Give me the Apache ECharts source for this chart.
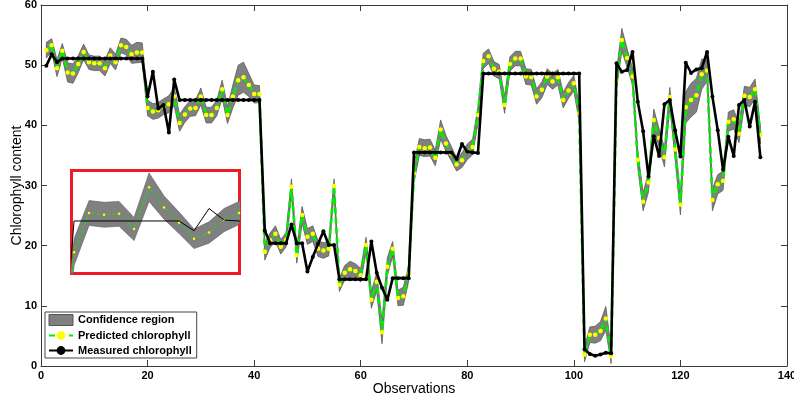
<!DOCTYPE html>
<html>
<head>
<meta charset="utf-8">
<script src="https://cdn.jsdelivr.net/npm/echarts@6/dist/echarts.min.js"></script>
<style>
html,body{margin:0;padding:0;background:#fff;}
#chart{width:794px;height:401px;}
</style>
</head>
<body>
<div id="chart"></div>
<script>
// ---------- data ----------
const observationCount = 135;
const observations = [];
for (let k = 1; k <= observationCount; k++) observations.push(k);

const measured = [
  49.9, 51.8, 50.5, 51.1, 51.1, 51.1, 51.1, 51.1, 51.1, 51.1,
  51.1, 51.1, 51.1, 51.1, 51.1, 51.1, 51.1, 51.1, 51.1, 44.8,
  48.9, 42.8, 43.4, 38.8, 47.6, 44.2, 44.2, 44.2, 44.2, 44.2,
  44.2, 44.2, 44.2, 44.2, 44.2, 44.2, 44.2, 44.2, 44.2, 44.2,
  44.2, 22.5, 20.4, 20.4, 20.4, 20.4, 23.5, 20.4, 20.4, 15.7,
  18.1, 20.3, 22.4, 20.1, 20.1, 14.4, 14.4, 14.4, 14.4, 14.4,
  14.4, 20.7, 15.5, 13.0, 11.0, 14.6, 14.6, 14.6, 14.6, 35.5,
  35.5, 35.5, 35.5, 35.5, 35.5, 35.5, 35.5, 34.4, 36.9, 35.6,
  35.5, 35.4, 48.6, 48.6, 48.6, 48.6, 48.6, 48.6, 48.6, 48.6,
  48.6, 48.6, 48.6, 48.6, 48.6, 48.6, 48.6, 48.6, 48.6, 48.6,
  48.6, 2.8, 2.0, 1.7, 1.9, 2.2, 2.1, 50.3, 48.9, 49.2,
  52.2, 43.9, 39.0, 31.5, 38.2, 34.9, 43.5, 44.2, 39.2, 34.8,
  50.4, 48.7, 49.3, 49.5, 52.2, 44.8, 39.2, 32.6, 38.1, 34.9,
  43.4, 44.2, 39.8, 43.9, 34.7
];

const predicted = [
  52.5, 53.3, 49.5, 52.4, 48.8, 48.6, 50.2, 52.2, 50.5, 50.3,
  50.3, 49.5, 51.6, 50.5, 53.3, 53.0, 51.8, 52.1, 52.1, 42.9,
  42.3, 42.5, 43.1, 43.5, 44.8, 40.4, 41.8, 42.8, 42.9, 44.8,
  41.7, 41.7, 42.9, 46.0, 41.7, 44.8, 47.5, 48.0, 46.7, 45.2,
  45.2, 19.0, 20.9, 22.0, 19.8, 21.0, 29.8, 18.4, 25.1, 21.5,
  22.0, 19.5, 19.2, 19.5, 29.9, 13.5, 15.5, 16.1, 15.8, 15.1,
  20.1, 11.0, 14.0, 5.6, 16.5, 19.5, 11.3, 11.6, 15.4, 32.0,
  36.4, 36.2, 36.3, 34.6, 39.3, 37.0, 35.3, 33.5, 34.2, 35.6,
  36.4, 41.7, 50.7, 51.5, 49.4, 48.9, 43.4, 50.2, 51.1, 51.1,
  48.1, 48.0, 44.8, 45.9, 48.1, 47.3, 48.0, 44.2, 45.8, 47.0,
  42.0, 1.9, 5.2, 5.2, 5.8, 7.9, 1.6, 47.5, 54.2, 51.2,
  48.1, 34.3, 27.3, 30.5, 40.9, 37.9, 34.7, 44.7, 36.0, 26.8,
  43.0, 44.2, 45.0, 48.5, 49.1, 27.6, 30.2, 30.8, 40.6, 41.0,
  38.6, 44.9, 44.7, 46.0, 38.4
];

// half width of the grey confidence region around the prediction
const bandHalfWidth = [
  1.3, 1.1, 1.4, 1.2, 1.6, 1.6, 1.4, 1.3, 1.2, 1.2,
  1.2, 1.3, 1.3, 1.3, 1.2, 1.3, 1.5, 1.7, 1.6, 1.3,
  1.3, 1.3, 1.3, 1.4, 1.5, 1.4, 1.3, 1.3, 1.3, 1.4,
  1.3, 1.3, 1.3, 1.5, 1.4, 1.9, 2.5, 2.5, 1.9, 1.5,
  1.4, 1.4, 1.2, 1.3, 1.2, 1.2, 1.3, 1.3, 1.4, 1.3,
  1.3, 1.3, 1.3, 1.2, 1.2, 1.1, 1.2, 1.3, 1.2, 1.1,
  1.3, 1.4, 1.5, 1.9, 1.5, 1.2, 1.3, 1.5, 1.3, 1.5,
  1.4, 1.4, 1.4, 1.3, 1.6, 1.3, 1.2, 1.1, 1.2, 1.3,
  1.3, 1.4, 1.3, 1.2, 1.2, 1.2, 1.4, 1.2, 1.2, 1.2,
  1.3, 1.3, 1.3, 1.3, 1.3, 1.3, 1.3, 1.3, 1.3, 1.3,
  1.4, 1.2, 1.3, 1.4, 1.6, 2.0, 1.2, 1.5, 1.9, 1.5,
  1.4, 1.4, 1.5, 1.6, 1.8, 1.5, 1.6, 1.6, 1.5, 1.7,
  2.6, 2.8, 2.8, 2.5, 1.8, 1.8, 1.6, 1.6, 1.6, 1.6,
  1.5, 1.6, 1.6, 1.7, 1.5
];

const xTickValues = [0, 20, 40, 60, 80, 100, 120, 140];
const yTickValues = [0, 10, 20, 30, 40, 50, 60];
const insetXRange = [69.83, 81.03];
const insetYRange = [29.6, 41.17];

// ---------- derived series ----------
const pairs = (vals) => observations.map((o, k) => [o, vals[k]]);
const bandRows = observations.map((o, k) => [o, predicted[k] - bandHalfWidth[k], predicted[k] + bandHalfWidth[k]]);
const predPairs = pairs(predicted);
const measPairs = pairs(measured);

const FONT = '"Liberation Sans", Arial, Helvetica, sans-serif';
const AXIS_COLOR = '#3a3a3a';
const GREY = '#808080';
const EDGE = '#5c5c5c';

const chart = echarts.init(document.getElementById('chart'), null, {renderer: 'canvas'});

const tickLabel = {fontFamily: FONT, fontWeight: 'bold', fontSize: 11, color: '#000'};

function bandSeries(name, xi, yi, edgeW) {
  return {
    name: name, type: 'custom', xAxisIndex: xi, yAxisIndex: yi,
    data: bandRows, encode: {x: 0, y: [1, 2]}, clip: true, silent: true,
    color: GREY, z: 1,
    renderItem: function (params, api) {
      if (params.dataIndex !== 0) return null;
      const pts = [];
      for (let k = 0; k < bandRows.length; k++) pts.push(api.coord([bandRows[k][0], bandRows[k][2]]));
      for (let k = bandRows.length - 1; k >= 0; k--) pts.push(api.coord([bandRows[k][0], bandRows[k][1]]));
      return {
        type: 'polygon', shape: {points: pts},
        style: {fill: GREY, stroke: EDGE, lineWidth: edgeW}
      };
    }
  };
}

const option = {
  animation: false,
  backgroundColor: '#fff',
  grid: [
    {left: 41, right: 7, top: 5, bottom: 35, containLabel: false, outerBoundsMode: 'none'},
    {left: 71.5, top: 170.5, width: 168, height: 103, show: true, containLabel: false, outerBoundsMode: 'none',
     borderColor: '#ec1c24', borderWidth: 3, backgroundColor: '#fff', z: 0}
  ],
  legend: {
    orient: 'vertical', left: 45, top: 312,
    itemWidth: 24, itemHeight: 11, itemGap: 4,
    padding: [2, 5, 2, 3],
    borderColor: '#444', borderWidth: 1, backgroundColor: '#fff',
    textStyle: {fontFamily: FONT, fontWeight: 'bold', fontSize: 11, color: '#000', lineHeight: 11},
    data: [
      {name: 'Confidence region', icon: 'rect',
       itemStyle: {color: GREY, borderColor: '#555', borderWidth: 1}},
      {name: 'Predicted chlorophyll'},
      {name: 'Measured chlorophyll'}
    ],
    selectedMode: false, z: 20
  },
  xAxis: [
    {
      type: 'value', gridIndex: 0, min: xTickValues[0], max: xTickValues[xTickValues.length - 1],
      interval: xTickValues[1] - xTickValues[0], position: 'bottom',
      name: 'Observations', nameLocation: 'middle', nameGap: 16, nameMoveOverlap: false,
      nameTextStyle: {fontFamily: FONT, fontSize: 14, color: '#000'},
      axisLine: {onZero: false, lineStyle: {color: AXIS_COLOR, width: 1}},
      axisTick: {inside: true, length: 6, lineStyle: {color: AXIS_COLOR}},
      axisLabel: Object.assign({margin: 4}, tickLabel),
      splitLine: {show: false}
    },
    {
      type: 'value', gridIndex: 0, min: xTickValues[0], max: xTickValues[xTickValues.length - 1],
      interval: xTickValues[1] - xTickValues[0], position: 'top',
      axisLine: {onZero: false, lineStyle: {color: AXIS_COLOR, width: 1}},
      axisTick: {inside: true, length: 6, lineStyle: {color: AXIS_COLOR}},
      axisLabel: {show: false}, splitLine: {show: false}
    },
    {
      type: 'value', gridIndex: 1, min: insetXRange[0], max: insetXRange[1], show: false,
      splitLine: {show: false}
    }
  ],
  yAxis: [
    {
      type: 'value', gridIndex: 0, min: yTickValues[0], max: yTickValues[yTickValues.length - 1],
      interval: yTickValues[1] - yTickValues[0], position: 'left',
      name: 'Chlorophyll content', nameLocation: 'middle', nameGap: 17, nameRotate: 90, nameMoveOverlap: false,
      nameTextStyle: {fontFamily: FONT, fontSize: 14, color: '#000'},
      axisLine: {onZero: false, lineStyle: {color: AXIS_COLOR, width: 1}},
      axisTick: {inside: true, length: 6, lineStyle: {color: AXIS_COLOR}},
      axisLabel: Object.assign({margin: 4}, tickLabel),
      splitLine: {show: false}
    },
    {
      type: 'value', gridIndex: 0, min: yTickValues[0], max: yTickValues[yTickValues.length - 1],
      interval: yTickValues[1] - yTickValues[0], position: 'right',
      axisLine: {onZero: false, lineStyle: {color: AXIS_COLOR, width: 1}},
      axisTick: {inside: true, length: 6, lineStyle: {color: AXIS_COLOR}},
      axisLabel: {show: false}, splitLine: {show: false}
    },
    {
      type: 'value', gridIndex: 1, min: insetYRange[0], max: insetYRange[1], show: false,
      splitLine: {show: false}
    }
  ],
  series: [
    bandSeries('Confidence region', 0, 0, 0.8),
    {
      name: 'Predicted chlorophyll', type: 'line', xAxisIndex: 0, yAxisIndex: 0,
      data: predPairs, symbol: 'circle', symbolSize: 4.5, showSymbol: true,
      color: '#00ee00',
      lineStyle: {color: '#00ee00', width: 2.6, type: [6, 4]},
      itemStyle: {color: '#ffff00', borderWidth: 0}, z: 3
    },
    {
      name: 'Measured chlorophyll', type: 'line', xAxisIndex: 0, yAxisIndex: 0,
      data: measPairs, symbol: 'circle', symbolSize: 4, showSymbol: true,
      color: '#000',
      lineStyle: {color: '#000', width: 2.6},
      itemStyle: {color: '#000', borderWidth: 0}, z: 4
    },
    bandSeries('insetBand', 2, 2, 0.6),
    {
      name: 'insetPredicted', type: 'line', xAxisIndex: 2, yAxisIndex: 2,
      data: predPairs, symbol: 'circle', symbolSize: 2.5, showSymbol: true,
      lineStyle: {color: '#00ee00', width: 1, type: [3, 2]},
      itemStyle: {color: '#ffff00', borderWidth: 0}, z: 3
    },
    {
      name: 'insetMeasured', type: 'line', xAxisIndex: 2, yAxisIndex: 2,
      data: measPairs, symbol: 'none',
      lineStyle: {color: '#000', width: 1}, z: 4
    }
  ]
};
chart.setOption(option);
</script>
</body>
</html>
